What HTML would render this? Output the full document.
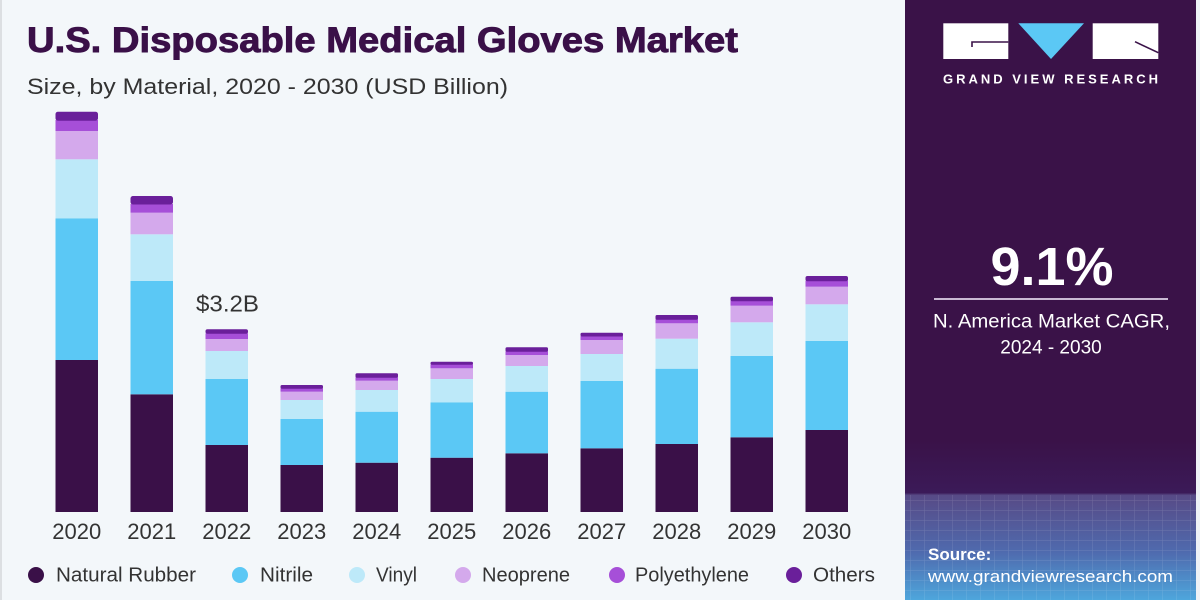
<!DOCTYPE html>
<html>
<head>
<meta charset="utf-8">
<style>
html,body{margin:0;padding:0;background:#f3f7fa;}
svg{display:block;}
text{font-family:"Liberation Sans",Arial,sans-serif;}
</style>
</head>
<body>
<svg width="1200" height="600" viewBox="0 0 1200 600" xmlns="http://www.w3.org/2000/svg">
<defs>
  <linearGradient id="bot" x1="0" y1="0" x2="0" y2="1">
    <stop offset="0" stop-color="#3a1248"/>
    <stop offset="0.33" stop-color="#3b1a58"/>
    <stop offset="0.345" stop-color="#574a86"/>
    <stop offset="0.7" stop-color="#4f6aae"/>
    <stop offset="1" stop-color="#4ea6dc"/>
  </linearGradient>
  <pattern id="grid" width="14" height="10" patternUnits="userSpaceOnUse">
    <path d="M0 0H14M0 0V10" stroke="#ffffff" stroke-opacity="0.16" stroke-width="1" fill="none"/>
  </pattern>
</defs>
<rect x="0" y="0" width="1200" height="600" fill="#f3f7fa"/>
<rect x="0" y="0" width="2" height="600" fill="#dcdfe2"/>

<!-- Title -->
<text x="27" y="52" font-size="35" font-weight="bold" fill="#3a1048" stroke="#3a1048" stroke-width="0.9" textLength="711" lengthAdjust="spacingAndGlyphs">U.S. Disposable Medical Gloves Market</text>
<text x="27" y="94" font-size="22" fill="#333333" textLength="481" lengthAdjust="spacingAndGlyphs">Size, by Material, 2020 - 2030 (USD Billion)</text>

<!-- Bars -->
<g id="bars">
<!-- 2020 -->
<rect x="55.5" y="360" width="42.5" height="152" fill="#3a1048"/>
<rect x="55.5" y="218.3" width="42.5" height="141.7" fill="#5bc8f5"/>
<rect x="55.5" y="159.3" width="42.5" height="59" fill="#bde9f9"/>
<rect x="55.5" y="131" width="42.5" height="28.3" fill="#d4a9ec"/>
<rect x="55.5" y="120" width="42.5" height="11" fill="#a64fd8"/>
<rect x="55.5" y="111.7" width="42.5" height="9" rx="2.5" fill="#6a1f9a"/>
<!-- 2021 -->
<rect x="130.5" y="394.3" width="42.5" height="117.7" fill="#3a1048"/>
<rect x="130.5" y="281" width="42.5" height="113.3" fill="#5bc8f5"/>
<rect x="130.5" y="234.3" width="42.5" height="46.7" fill="#bde9f9"/>
<rect x="130.5" y="212.7" width="42.5" height="21.6" fill="#d4a9ec"/>
<rect x="130.5" y="204" width="42.5" height="8.7" fill="#a64fd8"/>
<rect x="130.5" y="196" width="42.5" height="8.5" rx="2.5" fill="#6a1f9a"/>
<!-- 2022 -->
<rect x="205.5" y="445" width="42.5" height="67" fill="#3a1048"/>
<rect x="205.5" y="379" width="42.5" height="66" fill="#5bc8f5"/>
<rect x="205.5" y="351" width="42.5" height="28" fill="#bde9f9"/>
<rect x="205.5" y="339" width="42.5" height="12" fill="#d4a9ec"/>
<rect x="205.5" y="333.3" width="42.5" height="5.7" fill="#a64fd8"/>
<rect x="205.5" y="329.3" width="42.5" height="4.5" rx="2" fill="#6a1f9a"/>
<!-- 2023 -->
<rect x="280.5" y="465" width="42.5" height="47" fill="#3a1048"/>
<rect x="280.5" y="419" width="42.5" height="46" fill="#5bc8f5"/>
<rect x="280.5" y="400" width="42.5" height="19" fill="#bde9f9"/>
<rect x="280.5" y="391.7" width="42.5" height="8.3" fill="#d4a9ec"/>
<rect x="280.5" y="388.3" width="42.5" height="3.4" fill="#a64fd8"/>
<rect x="280.5" y="385" width="42.5" height="3.8" rx="1.5" fill="#6a1f9a"/>
<!-- 2024 -->
<rect x="355.5" y="462.7" width="42.5" height="49.3" fill="#3a1048"/>
<rect x="355.5" y="411.7" width="42.5" height="51" fill="#5bc8f5"/>
<rect x="355.5" y="390" width="42.5" height="21.7" fill="#bde9f9"/>
<rect x="355.5" y="380.7" width="42.5" height="9.3" fill="#d4a9ec"/>
<rect x="355.5" y="377.3" width="42.5" height="3.4" fill="#a64fd8"/>
<rect x="355.5" y="373.3" width="42.5" height="4.5" rx="1.5" fill="#6a1f9a"/>
<!-- 2025 -->
<rect x="430.5" y="457.7" width="42.5" height="54.3" fill="#3a1048"/>
<rect x="430.5" y="402.3" width="42.5" height="55.4" fill="#5bc8f5"/>
<rect x="430.5" y="379" width="42.5" height="23.3" fill="#bde9f9"/>
<rect x="430.5" y="368.3" width="42.5" height="10.7" fill="#d4a9ec"/>
<rect x="430.5" y="364.3" width="42.5" height="4" fill="#a64fd8"/>
<rect x="430.5" y="361.7" width="42.5" height="3.1" rx="1.5" fill="#6a1f9a"/>
<!-- 2026 -->
<rect x="505.5" y="453.3" width="42.5" height="58.7" fill="#3a1048"/>
<rect x="505.5" y="391.7" width="42.5" height="61.6" fill="#5bc8f5"/>
<rect x="505.5" y="366" width="42.5" height="25.7" fill="#bde9f9"/>
<rect x="505.5" y="355" width="42.5" height="11" fill="#d4a9ec"/>
<rect x="505.5" y="351.3" width="42.5" height="3.7" fill="#a64fd8"/>
<rect x="505.5" y="347.3" width="42.5" height="4.5" rx="1.5" fill="#6a1f9a"/>
<!-- 2027 -->
<rect x="580.5" y="448.3" width="42.5" height="63.7" fill="#3a1048"/>
<rect x="580.5" y="381" width="42.5" height="67.3" fill="#5bc8f5"/>
<rect x="580.5" y="354" width="42.5" height="27" fill="#bde9f9"/>
<rect x="580.5" y="340" width="42.5" height="14" fill="#d4a9ec"/>
<rect x="580.5" y="336" width="42.5" height="4" fill="#a64fd8"/>
<rect x="580.5" y="332.7" width="42.5" height="3.8" rx="1.5" fill="#6a1f9a"/>
<!-- 2028 -->
<rect x="655.5" y="444" width="42.5" height="68" fill="#3a1048"/>
<rect x="655.5" y="368.7" width="42.5" height="75.3" fill="#5bc8f5"/>
<rect x="655.5" y="338.7" width="42.5" height="30" fill="#bde9f9"/>
<rect x="655.5" y="323.3" width="42.5" height="15.4" fill="#d4a9ec"/>
<rect x="655.5" y="319.3" width="42.5" height="4" fill="#a64fd8"/>
<rect x="655.5" y="315" width="42.5" height="4.8" rx="1.5" fill="#6a1f9a"/>
<!-- 2029 -->
<rect x="730.5" y="437.3" width="42.5" height="74.7" fill="#3a1048"/>
<rect x="730.5" y="356" width="42.5" height="81.3" fill="#5bc8f5"/>
<rect x="730.5" y="322.3" width="42.5" height="33.7" fill="#bde9f9"/>
<rect x="730.5" y="305.7" width="42.5" height="16.6" fill="#d4a9ec"/>
<rect x="730.5" y="300.7" width="42.5" height="5" fill="#a64fd8"/>
<rect x="730.5" y="296.7" width="42.5" height="4.5" rx="1.5" fill="#6a1f9a"/>
<!-- 2030 -->
<rect x="805.5" y="430" width="42.5" height="82" fill="#3a1048"/>
<rect x="805.5" y="341" width="42.5" height="89" fill="#5bc8f5"/>
<rect x="805.5" y="304.3" width="42.5" height="36.7" fill="#bde9f9"/>
<rect x="805.5" y="286.7" width="42.5" height="17.6" fill="#d4a9ec"/>
<rect x="805.5" y="280.7" width="42.5" height="6" fill="#a64fd8"/>
<rect x="805.5" y="276" width="42.5" height="5.2" rx="2" fill="#6a1f9a"/>
</g>

<text x="196" y="311.5" font-size="23" fill="#333333" textLength="63" lengthAdjust="spacingAndGlyphs">$3.2B</text>

<!-- Year labels -->
<g font-size="22" fill="#333333" text-anchor="middle">
<text x="76.75" y="539">2020</text>
<text x="151.75" y="539">2021</text>
<text x="226.75" y="539">2022</text>
<text x="301.75" y="539">2023</text>
<text x="376.75" y="539">2024</text>
<text x="451.75" y="539">2025</text>
<text x="526.75" y="539">2026</text>
<text x="601.75" y="539">2027</text>
<text x="676.75" y="539">2028</text>
<text x="751.75" y="539">2029</text>
<text x="826.75" y="539">2030</text>
</g>

<!-- Legend -->
<g font-size="20" fill="#333333">
<circle cx="36" cy="575" r="8" fill="#3a1048"/>
<text x="56" y="581.5" textLength="140" lengthAdjust="spacingAndGlyphs">Natural Rubber</text>
<circle cx="240" cy="575" r="8" fill="#5bc8f5"/>
<text x="260" y="581.5" textLength="53" lengthAdjust="spacingAndGlyphs">Nitrile</text>
<circle cx="357" cy="575" r="8" fill="#bde9f9"/>
<text x="376" y="581.5" textLength="41" lengthAdjust="spacingAndGlyphs">Vinyl</text>
<circle cx="463" cy="575" r="8" fill="#d4a9ec"/>
<text x="482" y="581.5" textLength="88" lengthAdjust="spacingAndGlyphs">Neoprene</text>
<circle cx="617" cy="575" r="8" fill="#a64fd8"/>
<text x="635" y="581.5" textLength="114" lengthAdjust="spacingAndGlyphs">Polyethylene</text>
<circle cx="794" cy="575" r="8" fill="#6a1f9a"/>
<text x="813" y="581.5" textLength="62" lengthAdjust="spacingAndGlyphs">Others</text>
</g>

<!-- Right panel -->
<rect x="905" y="0" width="291" height="600" fill="#3a1248"/>
<rect x="905" y="440" width="291" height="160" fill="url(#bot)"/>
<rect x="905" y="495" width="291" height="105" fill="url(#grid)"/>
<rect x="1196" y="0" width="4" height="600" fill="#eef2f6"/>

<!-- Logo -->
<rect x="943.3" y="23.3" width="65" height="35.7" fill="#ffffff"/>
<path d="M1008.3 42H972V47" stroke="#3a1248" stroke-width="1.6" fill="none"/>
<polygon points="1018.3,23.3 1084,23.3 1051,59" fill="#5bc8f5"/>
<rect x="1092.7" y="23.3" width="65.6" height="35.7" fill="#ffffff"/>
<path d="M1135 41.7L1158.3 52.7" stroke="#3a1248" stroke-width="1.6" fill="none"/>
<text x="943" y="83.5" font-size="13" font-weight="bold" fill="#ffffff" textLength="215" lengthAdjust="spacing">GRAND VIEW RESEARCH</text>

<!-- CAGR -->
<text x="1052" y="285" font-size="54" font-weight="bold" fill="#ffffff" text-anchor="middle" textLength="123" lengthAdjust="spacingAndGlyphs">9.1%</text>
<rect x="934" y="298" width="234" height="2" fill="#c9b9d3"/>
<text x="933" y="327.5" font-size="19" fill="#ffffff" textLength="237" lengthAdjust="spacingAndGlyphs">N. America Market CAGR,</text>
<text x="1051" y="353.5" font-size="19" fill="#ffffff" text-anchor="middle">2024 - 2030</text>

<!-- Source -->
<text x="928" y="560" font-size="17" font-weight="bold" fill="#ffffff">Source:</text>
<text x="928" y="582" font-size="17" fill="#ffffff" textLength="245" lengthAdjust="spacingAndGlyphs">www.grandviewresearch.com</text>
</svg>
</body>
</html>
